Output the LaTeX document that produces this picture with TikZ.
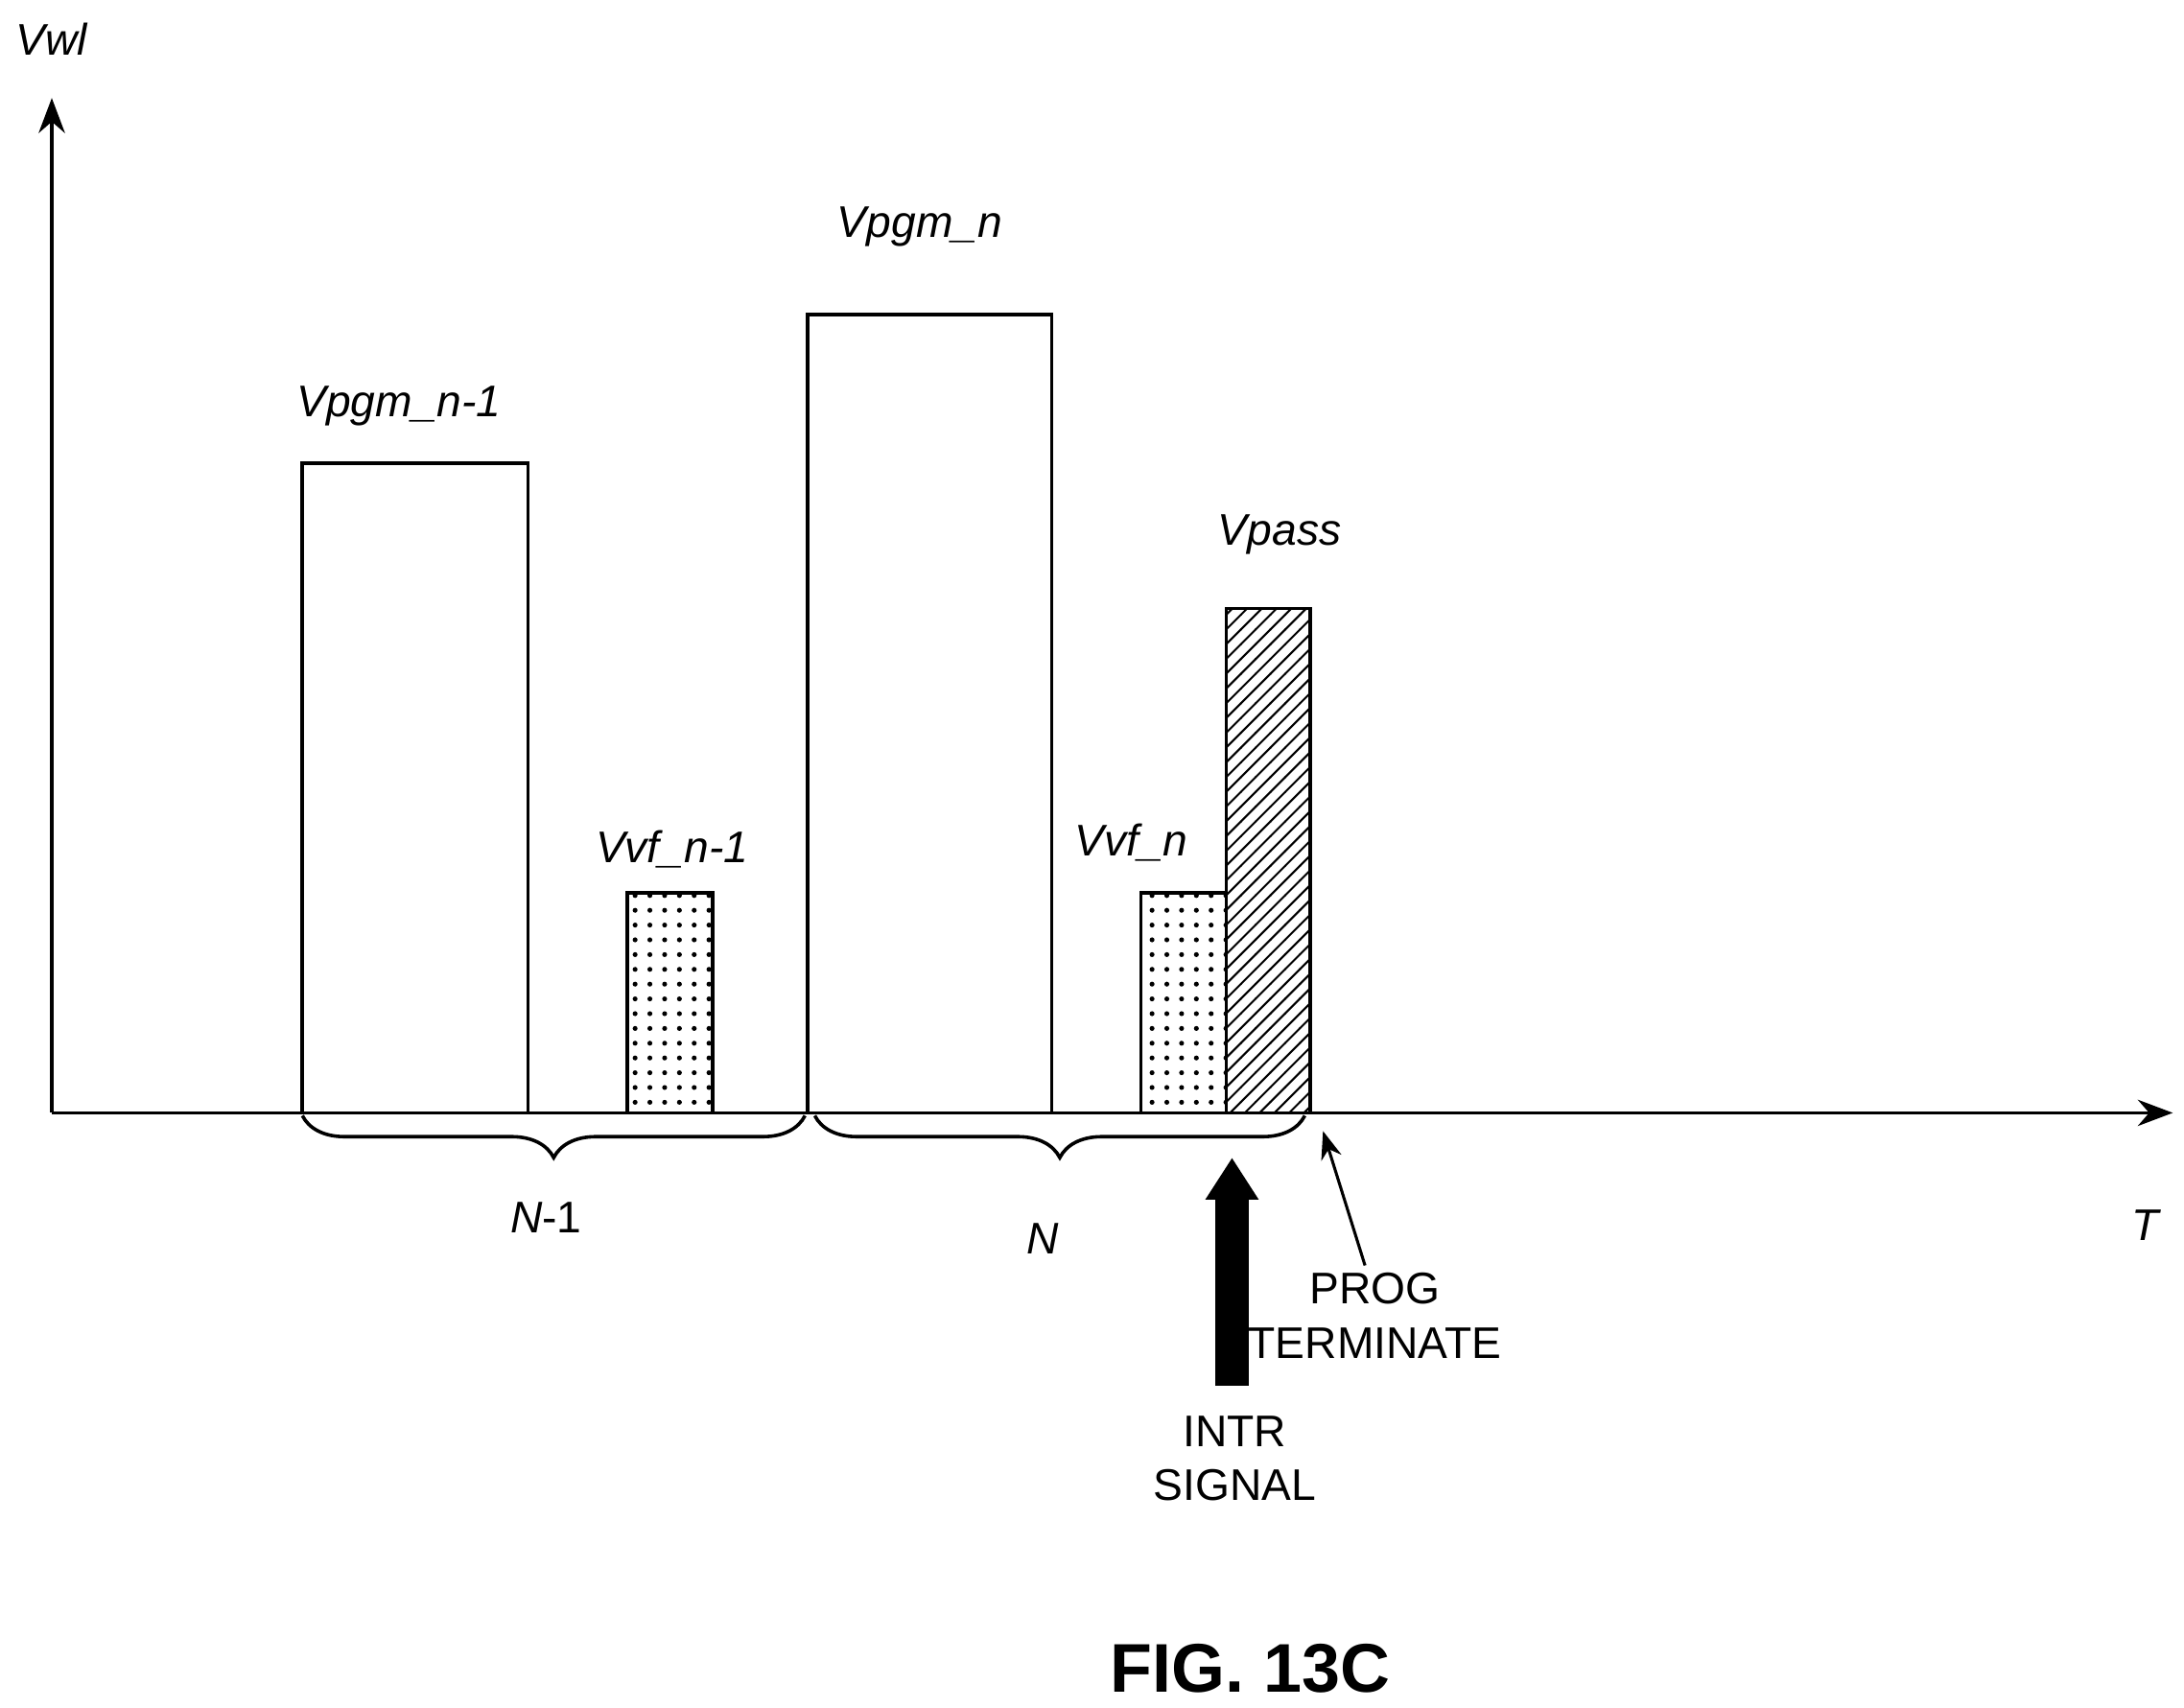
\documentclass[tikz,border=0pt]{standalone}
\usepackage{fontspec}
\setmainfont{Liberation Sans}
\usetikzlibrary{arrows.meta}
\usetikzlibrary{positioning}
\usetikzlibrary{patterns}
\usetikzlibrary{decorations.pathreplacing}
\begin{document}
\begin{tikzpicture}[
    x=0.01cm, y=-0.01cm,
    pulse/.style={draw, line width=0.7pt, inner sep=0pt, outer sep=0pt, anchor=south west},
    lbl/.style={font=\fontsize{9}{11}\selectfont\itshape},
    caps/.style={font=\fontsize{9}{11}\selectfont, align=center},
    brc/.style={decorate, decoration={brace, mirror, amplitude=0.3cm}, line width=0.7pt}
]
\useasboundingbox (0,0) rectangle (1560,1220);
% axes
\coordinate (origin) at (37,795);
\coordinate (ytop) at (37,70);
\coordinate (xend) at (1552,795);
\draw[line width=0.7pt, -{Stealth[length=0.25cm]}] (origin) -- (ytop);
\draw[line width=0.7pt, -{Stealth[length=0.25cm]}] (origin) -- (xend);
\node[lbl] (vwl) at (37,28) {Vwl};
\node[lbl] (t) at (1532,875) {T};
% pulses
\node[pulse, minimum width=1.61cm, minimum height=4.64cm] (pgm1) at (216,795) {};
\node[pulse, minimum width=0.61cm, minimum height=1.57cm, pattern=dots] (vf1) at (448,795) {};
\node[pulse, minimum width=1.74cm, minimum height=5.70cm] (pgm2) at (577,795) {};
\node[pulse, minimum width=0.61cm, minimum height=1.57cm, pattern=dots] (vf2) at (815,795) {};
\node[pulse, minimum width=0.60cm, minimum height=3.60cm, pattern=north east lines] (pass) at (876,795) {};
\node[lbl] (lpgm1) at (285,290) {Vpgm\_n-1};
\node[lbl] (lvf1) at (480,607) {Vvf\_n-1};
\node[lbl] (lpgm2) at (657,162) {Vpgm\_n};
\node[lbl] (lvf2) at (808,602) {Vvf\_n};
\node[lbl] (lpass) at (914,382) {Vpass};
% braces
\draw[brc] (216,797) -- (575,797);
\draw[brc] (582,797) -- (932,797);
\node[font=\fontsize{9}{11}\selectfont] (n1) at (390,870) {\textit{N}-1};
\node[lbl] (n) at (745,885) {N};
% signals
\node[caps] (intr) at (882,1042) {INTR\\SIGNAL};
\coordinate (intrtip) at (880,827);
\draw[line width=0.24cm, -{Triangle[length=0.3cm, width=0.36cm]}] (880,990) -- (intrtip);
\node[caps] (prog) at (982,940) {PROG\\TERMINATE};
\coordinate (progtip) at (945,808);
\draw[line width=0.6pt, -{Stealth[length=0.2cm]}] (975,904) -- (progtip);
\node[font=\fontsize{14}{17}\selectfont\bfseries] (fig) at (893,1192) {FIG. 13C};
\end{tikzpicture}
\end{document}
